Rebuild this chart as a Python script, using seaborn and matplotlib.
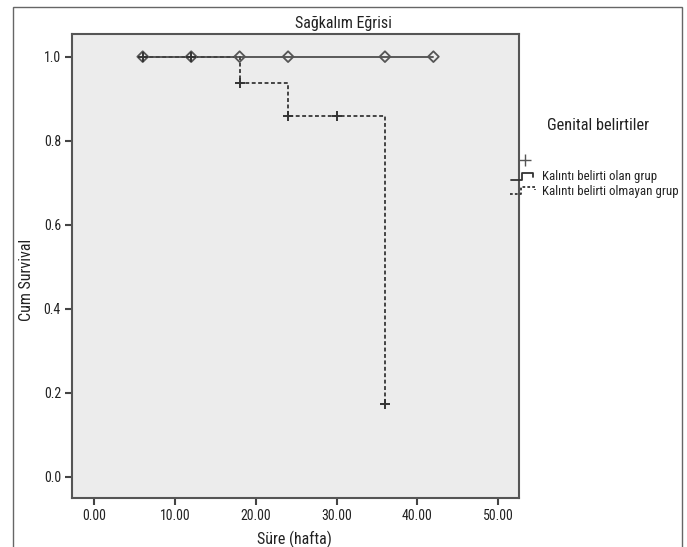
import numpy as np
import pandas as pd
import matplotlib
matplotlib.use("Agg")
import matplotlib.pyplot as plt
from matplotlib.lines import Line2D
from matplotlib.patches import Rectangle
import seaborn as sns

# data
grp_names = ["Kalıntı belirti olan grup", "Kalıntı belirti olmayan grup"]

# group 1: no events, only censored points
g1_time = [6, 42]
g1_surv = [1.0, 1.0]
g1_cens_time = [6, 12, 18, 24, 36, 42]
g1_cens_surv = [1.0, 1.0, 1.0, 1.0, 1.0, 1.0]

# group 2: step curve
g2_time = [6, 18, 24, 36, 36]
g2_surv = [1.0, 0.9375, 0.859, 0.172, 0.172]
g2_cens_time = [6, 12, 18, 24, 30, 36]
g2_cens_surv = [1.0, 1.0, 0.9375, 0.859, 0.859, 0.172]

x_ticks = [0, 10, 20, 30, 40, 50]
y_ticks = [0.0, 0.2, 0.4, 0.6, 0.8, 1.0]

sns.set_theme(style="ticks")
plt.rcParams["font.family"] = ["Roboto Condensed", "Liberation Sans",
                               "DejaVu Sans"]

W, H = 687, 547
fig = plt.figure(figsize=(W / 100, H / 100), dpi=100)
ax = fig.add_axes([72 / W, 1 - 498 / H, (519 - 72) / W, (498 - 34) / H])
ax.set_facecolor("#ececec")

d1 = pd.DataFrame({"t": g1_time, "s": g1_surv})
d2 = pd.DataFrame({"t": g2_time, "s": g2_surv})
sns.lineplot(data=d1, x="t", y="s", ax=ax, color="#5a5a5a", lw=1.4,
             drawstyle="steps-post", estimator=None, sort=False)
sns.lineplot(data=d2, x="t", y="s", ax=ax, color="#444444", lw=1.4,
             drawstyle="steps-post", estimator=None, sort=False,
             linestyle=(0, (2, 1.3)))

c1 = pd.DataFrame({"t": g1_cens_time, "s": g1_cens_surv})
c2 = pd.DataFrame({"t": g2_cens_time, "s": g2_cens_surv})
sns.scatterplot(data=c1, x="t", y="s", ax=ax, marker="D", s=30,
                facecolor="none", edgecolor="#555555", linewidth=1.3, zorder=3)
sns.scatterplot(data=c2, x="t", y="s", ax=ax, marker="+", s=45,
                color="#333333", linewidth=1.4, zorder=4)

ax.set_xlim(-2.76, 52.6)
ax.set_ylim(-0.051, 1.054)
ax.set_xticks(x_ticks)
ax.set_xticklabels([f"{v:.2f}" for v in x_ticks])
ax.set_yticks(y_ticks)
ax.set_yticklabels([f"{v:.1f}" for v in y_ticks])
ax.tick_params(axis="both", labelsize=10, length=5, width=1.5,
               color="#444444", labelcolor="#222222", pad=3)
for sp in ax.spines.values():
    sp.set_visible(True)
    sp.set_color("#555555")
    sp.set_linewidth(1.5)

ax.set_xlabel("Süre (hafta)", fontsize=11.5, color="#222222")
ax.set_ylabel("Cum Survival", fontsize=11.5, color="#222222")
ax.xaxis.set_label_coords(0.497, -0.07)
ax.yaxis.set_label_coords(-0.085, 0.47)

fig.text(0.5, 1 - 23 / H, "Sağkalım Eğrisi", ha="center", va="center",
         fontsize=11.5, color="#222222")

# legend drawn by hand (step shaped symbols)
def fx(px):
    return px / W

def fy(py):
    return 1 - py / H

fig.text(fx(547), fy(125), "Genital belirtiler", ha="left", va="center",
         fontsize=11.8, color="#222222")
fig.lines.append(Line2D([fx(525)], [fy(160)], marker="+", ms=8, mew=1.0,
                        color="#555555", transform=fig.transFigure))
fig.lines.append(Line2D([fx(511), fx(522), fx(522), fx(533), fx(533)],
                        [fy(180), fy(180), fy(173), fy(173), fy(177)],
                        color="#333333", lw=1.3, transform=fig.transFigure))
fig.lines.append(Line2D([fx(510), fx(521), fx(521), fx(535), fx(535)],
                        [fy(194), fy(194), fy(187), fy(187), fy(190)],
                        color="#333333", lw=1.3, linestyle=(0, (1.5, 1.2)),
                        transform=fig.transFigure))
fig.text(fx(542), fy(176), grp_names[0], ha="left", va="center",
         fontsize=9.3, color="#222222")
fig.text(fx(542), fy(191), grp_names[1], ha="left", va="center",
         fontsize=9.3, color="#222222")

# outer frame
fig.patches.append(Rectangle((fx(13), -0.05), fx(682) - fx(13), fy(7) + 0.05,
                             fill=False, edgecolor="#666666", lw=1.0,
                             transform=fig.transFigure))

fig.savefig("out.png", dpi=100)
